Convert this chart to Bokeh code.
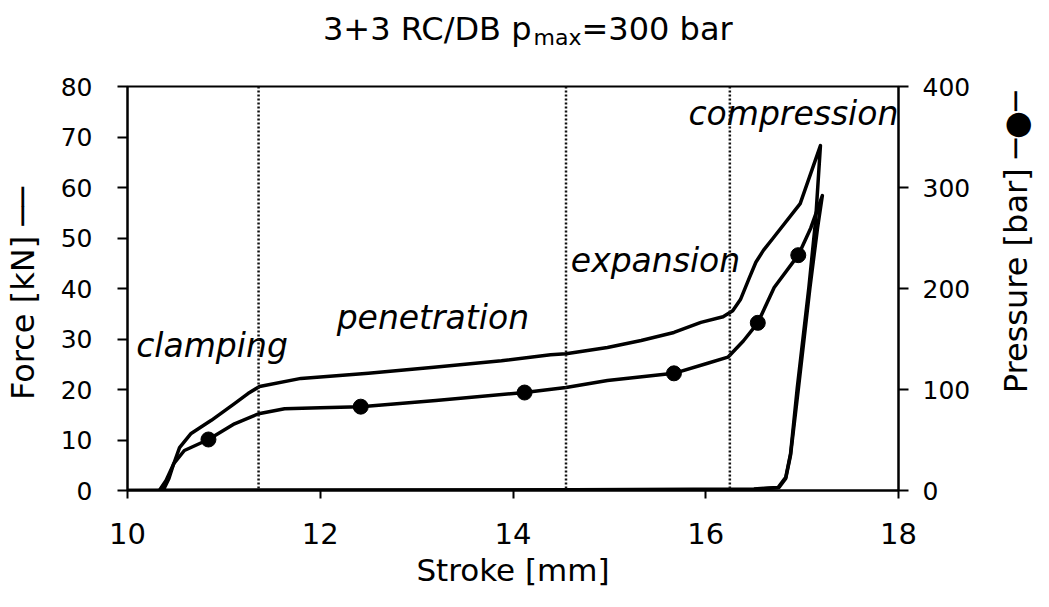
import math
from bokeh.plotting import figure
from bokeh.layouts import column, row
from bokeh.models import Range1d, LinearAxis, FixedTicker, Span
from bokeh.core.properties import value
from bokeh.embed import file_html
from bokeh.resources import INLINE

FONT = "DejaVu Sans"

# ---------------- data ----------------
title_main = "3+3 RC/DB p"
title_sub = "max"
title_tail = "=300 bar"
x_label = "Stroke [mm]"
force_label = "Force [kN]  ──"
pressure_label = "Pressure [bar] ─●─"

x_ticks = [10, 12, 14, 16, 18]
force_ticks = [0, 10, 20, 30, 40, 50, 60, 70, 80]
pressure_ticks = [0, 100, 200, 300, 400]

phase_bounds = [11.36, 14.55, 16.25]
phase_names = ["clamping", "penetration", "expansion", "compression"]
phase_label_x = [10.09, 12.17, 14.60, 15.82]
phase_label_y = [28.7, 34.3, 45.6, 74.6]

# force [kN] vs stroke [mm] (loading and unloading)
force_stroke = [10.0, 10.33, 10.40, 10.48, 10.54, 10.66, 10.87, 11.11, 11.25, 11.37,
                11.80, 12.50, 13.18, 13.88, 14.39, 14.55, 14.98, 15.33, 15.67, 15.95,
                16.18, 16.28, 16.36, 16.45, 16.52, 16.60, 16.70, 16.98, 17.19,
                17.14, 17.07, 16.95, 16.88, 16.83, 16.75, 16.50, 14.00, 10.0]
force_kn = [0.0, 0.0, 2.0, 5.3, 8.5, 11.3, 13.9, 17.2, 19.2, 20.6,
            22.2, 23.2, 24.4, 25.7, 26.9, 27.1, 28.3, 29.7, 31.3, 33.3,
            34.4, 35.6, 37.8, 42.0, 45.2, 47.6, 50.0, 56.8, 68.3,
            53.5, 40.2, 20.4, 7.3, 2.6, 0.6, 0.3, 0.1, 0.0]

# pressure [bar] vs stroke [mm] (loading and unloading)
pressure_stroke = [10.0, 10.37, 10.43, 10.48, 10.59, 10.84, 11.11, 11.36, 11.63, 12.00,
                   12.42, 13.20, 14.12, 14.55, 14.98, 15.67, 16.02, 16.23, 16.39, 16.54,
                   16.71, 16.96, 17.09, 17.21,
                   17.16, 17.08, 16.96, 16.88, 16.83, 16.76, 16.50, 10.0]
pressure_bar = [0, 0, 12, 26.7, 39.6, 50.5, 66, 76, 81, 82,
                83, 89, 97, 102, 109, 116, 126, 132, 148, 166,
                201, 233, 260, 292,
                260, 200, 100, 35, 12, 3, 1, 0]

marker_stroke = [10.84, 12.42, 14.12, 15.67, 16.54, 16.96]
marker_bar = [50.5, 83, 97, 116, 166, 233]

# ---------------- layout sizes ----------------
TOTAL_W, TOTAL_H = 1033, 591
TITLE_H = 60
SIDE_W = 44
MAIN_W = TOTAL_W - SIDE_W
MAIN_H = TOTAL_H - TITLE_H


def bare_fig(w, h):
    f = figure(width=w, height=h, x_range=Range1d(0, w), y_range=Range1d(0, h),
               output_backend="svg", toolbar_location=None,
               x_axis_type=None, y_axis_type=None, min_border=0)
    f.grid.visible = False
    f.outline_line_color = None
    return f


# ---------------- title ----------------
tf = bare_fig(TOTAL_W, TITLE_H)
tf.text([531], [32], text=[title_main], text_font=value(FONT), text_font_size="32px",
        text_color="black", text_align="right", text_baseline="alphabetic")
tf.text([533], [23], text=[title_sub], text_font=value(FONT), text_font_size="22px",
        text_color="black", text_align="left", text_baseline="alphabetic")
tf.text([581], [32], text=[title_tail], text_font=value(FONT), text_font_size="32px",
        text_color="black", text_align="left", text_baseline="alphabetic")

# ---------------- main chart ----------------
p = figure(width=MAIN_W, height=MAIN_H,
           x_range=Range1d(10, 18), y_range=Range1d(0, 80),
           output_backend="svg", toolbar_location=None,
           min_border_left=126, min_border_right=MAIN_W - 898,
           min_border_top=26, min_border_bottom=MAIN_H - 430)
p.extra_y_ranges = {"p": Range1d(0, 400)}
p.grid.visible = False
p.outline_line_color = "black"
p.outline_line_width = 2

xa = p.xaxis[0]
xa.ticker = FixedTicker(ticks=x_ticks)
xa.axis_label = x_label
ya = p.yaxis[0]
ya.ticker = FixedTicker(ticks=force_ticks)
ya.axis_label = force_label
ra = LinearAxis(y_range_name="p", ticker=FixedTicker(ticks=pressure_ticks))
p.add_layout(ra, "right")

for ax in (xa, ya, ra):
    ax.axis_line_color = "black"
    ax.axis_line_width = 2
    ax.major_tick_line_color = "black"
    ax.major_tick_line_width = 2
    ax.major_tick_in = 0
    ax.major_tick_out = 10
    ax.minor_tick_line_color = None
    ax.major_label_text_font = FONT
    ax.major_label_text_color = "black"
    ax.axis_label_text_font = FONT
    ax.axis_label_text_font_style = "normal"
    ax.axis_label_text_color = "black"
    ax.axis_label_text_font_size = "32px"

xa.major_tick_out = 8
xa.major_label_text_font_size = "29px"
xa.major_label_standoff = 24
xa.axis_label_standoff = 5
xa.axis_label_text_font_size = "31px"
ya.major_label_text_font_size = "25px"
ya.major_label_standoff = 25
ya.axis_label_standoff = 16
ra.major_label_text_font_size = "25px"
ra.major_label_standoff = 14

# phase boundaries
for b in phase_bounds:
    p.add_layout(Span(location=b, dimension="height", line_color="#111111",
                      line_width=2.5, line_dash="2 2"))

# curves
p.line(force_stroke, force_kn, line_color="black", line_width=3.5, line_join="round")
p.line(pressure_stroke, pressure_bar, y_range_name="p", line_color="black",
       line_width=3.5, line_join="round")
p.scatter(marker_stroke, marker_bar, y_range_name="p", marker="circle", size=15,
          fill_color="black", line_color="black")

# phase labels
p.text(phase_label_x, phase_label_y, text=phase_names,
       text_font=value(FONT), text_font_style="italic", text_font_size="33px",
       text_color="black", text_baseline="alphabetic", text_align="left")

# ---------------- right-hand axis title ----------------
sf = bare_fig(SIDE_W, MAIN_H)
sf.text([26], [MAIN_H - (265 - TITLE_H)], text=[pressure_label], angle=math.pi / 2,
        text_font=value(FONT), text_font_size="32px", text_color="black",
        text_align="center", text_baseline="middle")

layout = column(tf, row(p, sf, spacing=0), spacing=0)
open("out.html", "w").write(file_html(layout, INLINE))
